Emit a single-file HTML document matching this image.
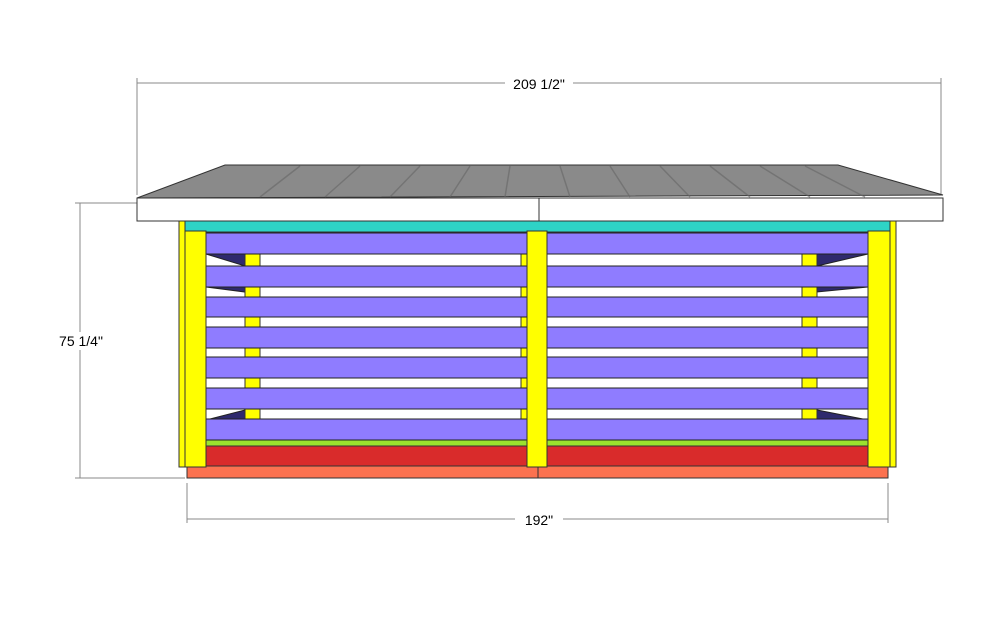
<!DOCTYPE html><html><head><style>body{margin:0;background:#fff}</style></head><body>
<svg width="1005" height="634" xmlns="http://www.w3.org/2000/svg" font-family="Liberation Sans, sans-serif">
<g stroke="#888" stroke-width="1" fill="none">
<line x1="137" y1="83" x2="941" y2="83"/><line x1="137" y1="78" x2="137" y2="195"/><line x1="941" y1="78" x2="941" y2="195"/>
<line x1="80" y1="203" x2="80" y2="478"/><line x1="75" y1="203" x2="137" y2="203"/><line x1="75" y1="478" x2="185" y2="478"/>
<line x1="187" y1="519" x2="888" y2="519"/><line x1="187" y1="483" x2="187" y2="523"/><line x1="888" y1="483" x2="888" y2="523"/>
</g>
<rect x="505" y="74" width="68" height="18" fill="#fff"/><text x="539" y="89" font-size="14" text-anchor="middle">209 1/2"</text>
<rect x="50" y="332" width="62" height="18" fill="#fff"/><text x="81" y="346" font-size="14" text-anchor="middle">75 1/4"</text>
<rect x="515" y="510" width="48" height="18" fill="#fff"/><text x="539" y="525" font-size="14" text-anchor="middle">192"</text>
<polygon points="137,198 225,165 838,165 943,195" fill="#8a8a8a" stroke="#333"/>
<g stroke="#666" stroke-width="1.5" opacity="0.6">
<line x1="300" y1="166" x2="260" y2="197"/><line x1="360" y1="166" x2="325" y2="197"/><line x1="420" y1="166" x2="390" y2="197"/><line x1="470" y1="166" x2="450" y2="197"/><line x1="510" y1="166" x2="505" y2="197"/><line x1="560" y1="166" x2="570" y2="197"/><line x1="610" y1="166" x2="630" y2="197"/><line x1="660" y1="166" x2="690" y2="197"/><line x1="710" y1="166" x2="750" y2="197"/><line x1="760" y1="166" x2="810" y2="197"/><line x1="805" y1="166" x2="865" y2="197"/>
</g>
<rect x="137" y="198" width="806" height="23" fill="#fff" stroke="#333"/>
<line x1="539" y1="198" x2="539" y2="221" stroke="#333"/>
<rect x="185" y="221" width="705" height="11" fill="#2ed3c6" stroke="#333"/>
<rect x="187" y="466" width="701" height="12" fill="#fb7250" stroke="#333"/>
<line x1="538" y1="466" x2="538" y2="478" stroke="#333"/>
<rect x="206" y="446" width="662" height="20" fill="#d92b2b" stroke="#333"/>
<rect x="206" y="440" width="662" height="6" fill="#9be22e" stroke="#333"/>
<g fill="#2f2a6e" stroke="#222">
<polygon points="206,254 245,254 245,266"/><polygon points="206,287 245,287 245,292"/><polygon points="206,378 245,378 245,372"/><polygon points="206,409 245,409 245,402"/><polygon points="206,440 245,440 245,410 206,420"/>
<polygon points="868,254 817,254 817,266"/><polygon points="868,287 817,287 817,292"/><polygon points="868,378 817,378 817,372"/><polygon points="868,409 817,409 817,402"/><polygon points="868,420 817,410 817,419"/>
</g>
<g fill="#ffff00" stroke="#333">
<rect x="245" y="254" width="15" height="166"/><rect x="802" y="254" width="15" height="166"/>
<rect x="521" y="254" width="6" height="166"/>
</g>
<g fill="#8f7cff" stroke="#222">
<rect x="206" y="233" width="662" height="21"/><rect x="206" y="266" width="662" height="21"/><rect x="206" y="297" width="662" height="20"/><rect x="206" y="327" width="662" height="21"/><rect x="206" y="357" width="662" height="21"/><rect x="206" y="388" width="662" height="21"/><rect x="206" y="419" width="662" height="21"/>
</g>
<g fill="#ffff00" stroke="#333">
<rect x="179" y="221" width="6" height="246"/><rect x="185" y="231" width="21" height="236"/>
<rect x="527" y="231" width="20" height="236"/>
<rect x="868" y="231" width="22" height="236"/><rect x="890" y="221" width="6" height="246"/>
</g>
</svg></body></html>
